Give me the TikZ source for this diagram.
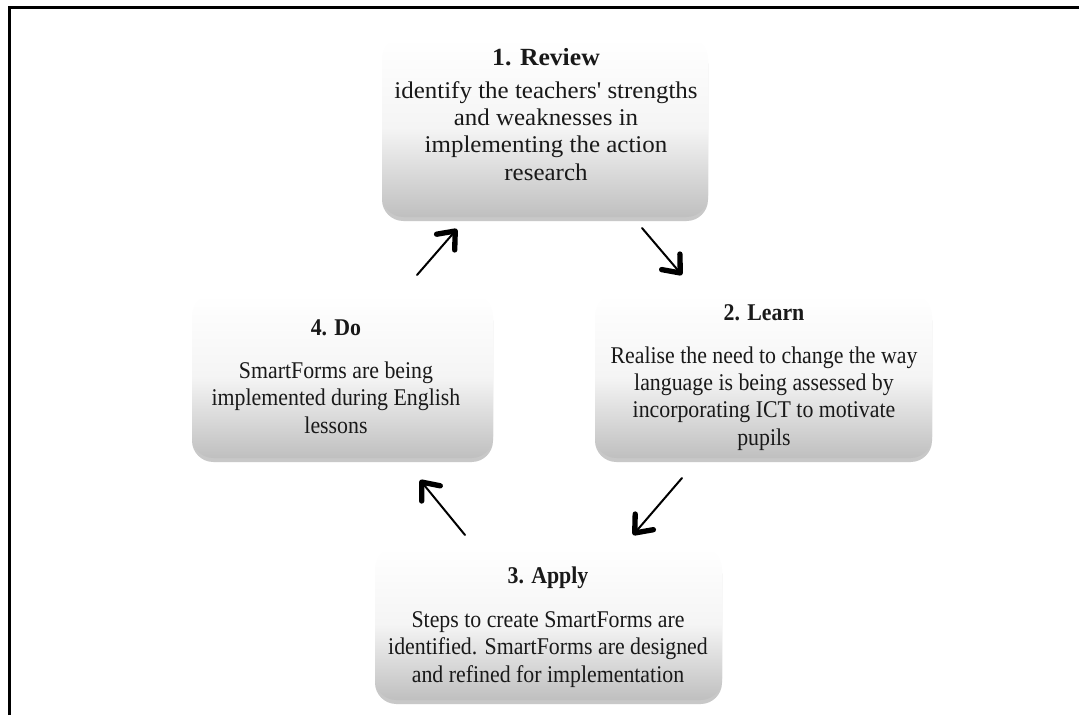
\documentclass[tikz,border=0pt]{standalone}
\usepackage{fontspec}
\setmainfont{Liberation Serif}[FakeStretch=0.91]
\newfontfamily\reviewfont{Liberation Serif}[FakeStretch=1.04]
\usetikzlibrary{arrows.meta,shadows}
\begin{document}
\begin{tikzpicture}[x=0.75pt,y=-0.75pt,
  stagebox/.style={draw=none,rounded corners=16pt,top color=white,bottom color=black!25,middle color=black!4,
    drop shadow={shadow xshift=0pt,shadow yshift=-3pt,opacity=0.3,fill=black!70}},
  titletext/.style={anchor=base,font=\fontsize{18}{21}\selectfont\bfseries,text=black!90,inner sep=0pt},
  bodytext/.style={anchor=base,align=center,font=\fontsize{18}{20.5}\selectfont,text=black!90,inner sep=0pt},
  cyclearrow/.style={line width=1.5pt,line cap=round,-{Straight Barb[length=11pt,width=18pt,line width=4pt,round]}}
]
\useasboundingbox (0,0) rectangle (1079,715);
\fill[white] (0,0) rectangle (1079,715);
\draw[line width=1.9pt] (9.5,715) -- (9.5,7.5) -- (1079,7.5);

% boxes
\node[stagebox,minimum width=244.5pt,minimum height=134.25pt] (review) at (545,127.5) {};
\node[stagebox,minimum width=252.75pt,minimum height=122.25pt] (learn) at (763.5,376.5) {};
\node[stagebox,minimum width=260.25pt,minimum height=114pt] (apply) at (548.5,624) {};
\node[stagebox,minimum width=225.75pt,minimum height=122.25pt] (do) at (342.5,376.5) {};

% texts (body anchored at the baseline of its last line)
\node[titletext,font=\reviewfont\fontsize{18.5}{21}\selectfont\bfseries] (review-t) at (546,65) {1. Review};
\node[bodytext,font=\reviewfont\fontsize{18}{20.5}\selectfont] (review-b) at (546,180) {identify the teachers' strengths\\and weaknesses in\\implementing the action\\research};
\node[titletext] (learn-t) at (764,320) {2. Learn};
\node[bodytext] (learn-b) at (764,445) {Realise the need to change the way\\language is being assessed by\\incorporating ICT to motivate\\pupils};
\node[titletext] (apply-t) at (548,583) {3. Apply};
\node[bodytext] (apply-b) at (548,682) {Steps to create SmartForms are\\identified. SmartForms are designed\\and refined for implementation};
\node[titletext] (do-t) at (336,335) {4. Do};
\node[bodytext] (do-b) at (336,433) {SmartForms are being\\implemented during English\\lessons};

% arrows
\coordinate (a41s) at (417,275); \coordinate (a41e) at (457,229);
\coordinate (a12s) at (642,228); \coordinate (a12e) at (682,275);
\coordinate (a23s) at (682,478); \coordinate (a23e) at (633,535);
\coordinate (a34s) at (465,535); \coordinate (a34e) at (420,480);
\draw[cyclearrow] (a41s) -- (a41e);
\draw[cyclearrow] (a12s) -- (a12e);
\draw[cyclearrow] (a23s) -- (a23e);
\draw[cyclearrow] (a34s) -- (a34e);
\end{tikzpicture}
\end{document}
